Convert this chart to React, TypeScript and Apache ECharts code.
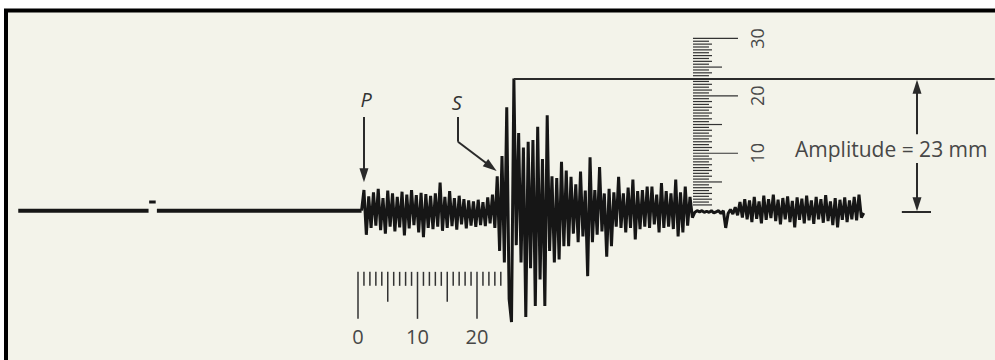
import React, { useEffect, useRef } from "react";
import * as echarts from "echarts";

// ---------------- data (seconds / millimetres) ----------------
const SAMPLE_DT = 0.4; // s between samples of the trace

// flat trace before the P arrival (pen lifted once for a minute mark)
const preEventSegments = [
  [-57.1, -35.2],
  [-33.8, 0.6],
];
const minuteMark = [-35.1, -34.0];
const minuteMarkMm = 1.5;

// P phase
const pWaveStart = 0.6;
const pWave = [
  0, 3.6, -4.2, 2.5, -3.0, 3.2, -2.6, 3.8, -3.4, 2.2,
  -4.0, 3.5, -2.8, 3.0, -3.6, 2.4, -2.9, 3.3, -4.3, 2.8,
  -3.1, 3.6, -2.5, 2.7, -3.8, 3.1, -4.6, 2.9, -3.0, 2.6,
  -3.2, 3.0, -2.8, 4.9, -3.5, 2.4, -3.0, 3.4, -2.7, 2.2,
  -3.3, 2.6, -2.4, 2.0, -3.1, 1.8, -2.6, 1.6, -2.8, 1.9,
  -2.5, 1.5, -2.7, 2.3, -2.2, 2.8, -3.0,
];

// S phase
const sWaveStart = 23.4;
const sWave = [
  6.0, -7.0, 9.5, -9.0, 18.0, -15.4, -19.4, 23.0, -6.0, 13.5,
  -9.0, 11.0, -18.5, 12.0, -10.0, 12.3, -16.6, 14.6, -12.0, 9.0,
  -16.6, 16.6, -7.0, 6.0, -9.0, 5.7, -8.5, 8.5, -6.2, 7.0,
];

// coda
const codaStart = 35.4;
const coda = [
  -6.2, 5.9, -4.0, 4.6, -5.5, 6.8, -4.5, 3.5, -11.4, 9.3,
  -5.5, 3.6, -4.2, 7.6, -3.6, 3.0, -8.0, 3.8, -6.2, 3.2,
  -2.8, 5.9, -3.0, 3.0, -3.8, 4.0, -3.0, 5.4, -5.0, 3.4,
  -3.2, 3.6, -2.8, 4.2, -3.0, 4.2, -2.4, 2.8, -3.8, 4.8,
  -3.0, 3.4, -2.8, 3.0, -3.2, 5.4, -4.5, 3.2, -3.8, 4.2,
  -2.6, 2.4, -1.2,
];

// quiet stretch
const quietStart = 56.6;
const quiet = [
  -0.3, 0, -0.2, 0, -0.3, -0.1, -0.3, 0, -0.4, -0.2,
  0, -0.5, 0, -3.0, -0.5, 0.2, -0.6,
];

// late small waves
const tailStart = 63.4;
const tail = [
  0.6, -0.8, 1.5, -1.2, 2.0, -1.5, 1.8, -2.0, 2.4, -1.4,
  1.6, -2.2, 2.6, -1.6, 2.0, -1.3, 2.8, -1.8, 1.9, -2.4,
  2.2, -1.5, 2.5, -2.0, 1.7, -2.9, 2.3, -1.6, 2.1, -2.2,
  2.6, -1.7, 1.8, -2.3, 2.4, -1.5, 2.0, -2.1, 2.7, -1.8,
  1.6, -2.5, 2.2, -2.9, 1.9, -1.6, 2.3, -2.0, 1.8, -1.5,
  2.4, -1.7, 2.8, -1.2, -0.4,
];

// rulers
const timeRulerTicks = [
  0, 1, 2, 3, 4, 5, 6, 7, 8, 9, 10, 11, 12, 13, 14, 15, 16, 17, 18, 19, 20,
  21, 22, 23, 24,
];
const timeRulerLabels = [0, 10, 20];
const ampRulerTicks = [
  1, 1.5, 2, 2.5, 3, 3.5, 4, 4.5, 5, 5.5, 6, 6.5, 7, 7.5, 8, 8.5, 9, 9.5, 10,
  10.5, 11, 11.5, 12, 12.5, 13, 13.5, 14, 14.5, 15, 15.5, 16, 16.5, 17, 17.5,
  18, 18.5, 19, 19.5, 20, 20.5, 21, 21.5, 22, 22.5, 23, 23.5, 24, 24.5, 25,
  25.5, 26, 26.5, 27, 27.5, 28, 28.5, 29, 29.5, 30,
];
const ampRulerLabels = [10, 20, 30];

// ---------------- layout / style ----------------
const T0_PX = 358;
const PX_PER_S = 5.95;
const Y0_PX = 211.5;
const PX_PER_MM = 5.77;
const X_MIN = -60;
const X_MAX = 107;
const Y_MIN = -26;
const Y_MAX = 31;

const TIME_RULER_TOP_MM = -10.65;
const AMP_RULER_T = 56.3;
const AMP_ARROW_T = 93.95;

const INK = "#161616";
const LINE = "#2a2a2a";
const RULER = "#333333";
const TEXT = "#474747";
const FONT = '"Open Sans", "DejaVu Sans", sans-serif';
const PAPER = "#f3f3ea";
const HEAD = 14; // arrow-head length px

function phase(start: number, values: number[]) {
  return values.map((v, i) => [Number((start + i * SAMPLE_DT).toFixed(2)), v]);
}

// move an arrow end back along its line by half the head so the tip lands on `to`
function arrowEnd(from: number[], to: number[]) {
  const dx = (to[0] - from[0]) * PX_PER_S;
  const dy = (to[1] - from[1]) * PX_PER_MM;
  const len = Math.hypot(dx, dy) || 1;
  const back = HEAD / 2;
  return [to[0] - (dx / len) * back / PX_PER_S, to[1] - (dy / len) * back / PX_PER_MM];
}

function seg(from: number[], to: number[], arrow: boolean) {
  const end = arrow ? arrowEnd(from, to) : to;
  return [
    { coord: from, symbol: "none" },
    arrow
      ? { coord: end, symbol: "triangle", symbolSize: [9, HEAD] }
      : { coord: end, symbol: "none" },
  ];
}

export default function App() {
  const ref = useRef<HTMLDivElement>(null);

  useEffect(() => {
    if (!ref.current) return;
    const chart = echarts.init(ref.current, undefined, { renderer: "svg" });

    const trace = [
      ...phase(pWaveStart, pWave),
      ...phase(sWaveStart, sWave),
      ...phase(codaStart, coda),
      ...phase(quietStart, quiet),
      ...phase(tailStart, tail),
    ];
    const peak = trace.reduce((a, b) => (b[1] > a[1] ? b : a));
    const amplitude = Math.round(peak[1]);

    const annotations = [
      { text: "P", t: 1.35, mm: 19.3, size: 20, italic: true, align: "center" },
      { text: "S", t: 16.6, mm: 18.8, size: 20, italic: true, align: "center" },
      {
        text: `Amplitude = ${amplitude} mm`,
        t: 73.45,
        mm: 10.66,
        size: 21,
        italic: false,
        align: "left",
      },
    ];

    const option: any = {
      animation: false,
      backgroundColor: "#ffffff",
      graphic: [
        {
          type: "rect",
          silent: true,
          z: 0,
          shape: { x: 6, y: 10.5, width: 1000, height: 360 },
          style: { fill: PAPER, stroke: "#000000", lineWidth: 4 },
        },
      ],
      grid: {
        left: T0_PX + X_MIN * PX_PER_S,
        width: (X_MAX - X_MIN) * PX_PER_S,
        top: Y0_PX - Y_MAX * PX_PER_MM,
        height: (Y_MAX - Y_MIN) * PX_PER_MM,
        containLabel: false,
      },
      xAxis: { type: "value", min: X_MIN, max: X_MAX, show: false },
      yAxis: { type: "value", min: Y_MIN, max: Y_MAX, show: false },
      series: [
        ...preEventSegments.map((s, i) => ({
          type: "line",
          name: "baseline" + i,
          data: [
            [s[0], 0],
            [s[1], 0],
          ],
          symbol: "none",
          silent: true,
          lineStyle: { color: INK, width: 4 },
          z: 3,
          markLine:
            i === 0
              ? {
                  silent: true,
                  animation: false,
                  symbol: ["none", "none"],
                  label: { show: false },
                  lineStyle: { color: LINE, width: 2, type: "solid" },
                  data: [
                    seg([peak[0], peak[1]], [X_MAX, peak[1]], false),
                    seg([1.0, 16.3], [1.0, 4.94], true),
                    seg([16.8, 16.3], [16.8, 12.0], false),
                    seg([16.8, 12.0], [23.3, 6.9], true),
                    seg([AMP_ARROW_T, 13.3], [AMP_ARROW_T, 22.8], true),
                    seg([AMP_ARROW_T, 8.3], [AMP_ARROW_T, -0.1], true),
                    seg([91.4, -0.25], [96.3, -0.25], false),
                  ],
                }
              : undefined,
        })),
        {
          type: "line",
          name: "minute mark",
          data: [
            [minuteMark[0], minuteMarkMm],
            [minuteMark[1], minuteMarkMm],
          ],
          symbol: "none",
          silent: true,
          lineStyle: { color: INK, width: 3 },
        },
        {
          type: "line",
          name: "seismogram",
          data: trace,
          symbol: "none",
          silent: true,
          lineStyle: { color: INK, width: 3 },
          z: 4,
        },
        {
          type: "custom",
          name: "time ruler",
          coordinateSystem: "cartesian2d",
          silent: true,
          data: timeRulerTicks.map((t) => [t, TIME_RULER_TOP_MM]),
          renderItem: (_p: any, api: any) => {
            const t = api.value(0) as number;
            const p = api.coord([t, api.value(1)]);
            const len = t % 10 === 0 ? 47 : t % 5 === 0 ? 30 : 14;
            const children: any[] = [
              {
                type: "line",
                shape: { x1: p[0], y1: p[1], x2: p[0], y2: p[1] + len },
                style: { stroke: RULER, lineWidth: 1.5 },
              },
            ];
            if (timeRulerLabels.includes(t)) {
              children.push({
                type: "text",
                x: p[0],
                y: p[1] + 65,
                style: {
                  text: String(t),
                  align: "center",
                  verticalAlign: "middle",
                  fontSize: 20,
                  fontFamily: FONT,
                  fill: TEXT,
                },
              });
            }
            return { type: "group", children };
          },
        },
        {
          type: "custom",
          name: "amplitude ruler",
          coordinateSystem: "cartesian2d",
          silent: true,
          data: ampRulerTicks.map((v) => [AMP_RULER_T, v]),
          renderItem: (_p: any, api: any) => {
            const v = api.value(1) as number;
            const p = api.coord([api.value(0), v]);
            const len =
              v % 10 === 0 ? 45 : v % 5 === 0 ? 29 : Number.isInteger(v) ? 19 : 16;
            const children: any[] = [
              {
                type: "line",
                shape: { x1: p[0], y1: p[1], x2: p[0] + len, y2: p[1] },
                style: { stroke: RULER, lineWidth: 1.2 },
              },
            ];
            if (ampRulerLabels.includes(v)) {
              children.push({
                type: "text",
                x: p[0] + 64,
                y: p[1],
                rotation: Math.PI / 2,
                style: {
                  text: String(v),
                  align: "center",
                  verticalAlign: "middle",
                  fontSize: 18,
                  fontFamily: FONT,
                  fill: TEXT,
                },
              });
            }
            return { type: "group", children };
          },
        },
        {
          type: "custom",
          name: "labels",
          coordinateSystem: "cartesian2d",
          silent: true,
          data: annotations.map((a, i) => [a.t, a.mm, i]),
          renderItem: (_p: any, api: any) => {
            const a = annotations[api.value(2) as number];
            const p = api.coord([api.value(0), api.value(1)]);
            return {
              type: "text",
              x: p[0],
              y: p[1],
              style: {
                text: a.text,
                align: a.align,
                verticalAlign: "middle",
                fontSize: a.size,
                fontStyle: a.italic ? "italic" : "normal",
                fontFamily: FONT,
                fill: a.italic ? "#333333" : TEXT,
              },
            };
          },
        },
      ],
    };

    chart.setOption(option);
    return () => chart.dispose();
  }, []);

  return (
    <div
      ref={ref}
      style={{ position: "fixed", left: 0, top: 0, width: 995, height: 360 }}
    />
  );
}
